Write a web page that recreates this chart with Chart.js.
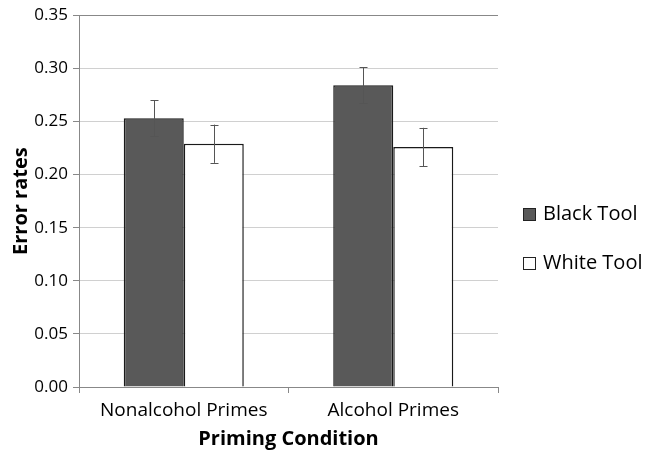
<!DOCTYPE html>
<html>
<head>
<meta charset="utf-8">
<script src="https://cdn.jsdelivr.net/npm/chart.js@4"></script>
<style>
html,body{margin:0;padding:0;background:#fff;}
#wrap{width:651px;height:451px;position:relative;}
</style>
</head>
<body>
<div id="wrap"><canvas id="c" width="651" height="451"></canvas></div>
<script>
const categories = ["Nonalcohol Primes", "Alcohol Primes"];
const seriesNames = ["Black Tool", "White Tool"];
const blackTool = [0.253, 0.284];
const whiteTool = [0.229, 0.226];
const blackErr = [0.017, 0.017];
const whiteErr = [0.018, 0.018];
const yTicks = [0, 0.05, 0.10, 0.15, 0.20, 0.25, 0.30, 0.35];
const FONT = "'Open Sans', sans-serif";

const errorBars = {
  id: 'errorBars',
  afterDatasetsDraw(chart) {
    const ctx = chart.ctx, y = chart.scales.y;
    const errs = [blackErr, whiteErr];
    chart.data.datasets.forEach((ds, di) => {
      const meta = chart.getDatasetMeta(di);
      meta.data.forEach((bar, i) => {
        const v = ds.data[i], e = errs[di][i];
        const yt = y.getPixelForValue(v + e), yb = y.getPixelForValue(v - e);
        const x = Math.round(bar.x) + 0.5;
        ctx.save();
        ctx.strokeStyle = '#555';
        ctx.lineWidth = 1;
        ctx.beginPath();
        ctx.moveTo(x, yt); ctx.lineTo(x, yb);
        ctx.moveTo(x - 4, Math.round(yt) + 0.5); ctx.lineTo(x + 4, Math.round(yt) + 0.5);
        ctx.moveTo(x - 4, Math.round(yb) + 0.5); ctx.lineTo(x + 4, Math.round(yb) + 0.5);
        ctx.stroke();
        ctx.restore();
      });
    });
  }
};

const customLegend = {
  id: 'customLegend',
  afterDraw(chart) {
    const ctx = chart.ctx;
    const ys = [214, 263];
    chart.data.datasets.forEach((ds, i) => {
      ctx.save();
      ctx.fillStyle = ds.backgroundColor;
      ctx.strokeStyle = '#222';
      ctx.lineWidth = 1;
      ctx.fillRect(523, ys[i] - 6, 13, 13);
      ctx.strokeRect(523.5, ys[i] - 5.5, 12, 12);
      ctx.fillStyle = '#000';
      ctx.font = "20px " + FONT;
      ctx.textBaseline = 'middle';
      ctx.fillText(ds.label, 543, ys[i]);
      ctx.restore();
    });
  }
};

new Chart(document.getElementById('c'), {
  type: 'bar',
  data: {
    labels: categories,
    datasets: [
      { label: seriesNames[0], data: blackTool, backgroundColor: '#595959', borderColor: '#1a1a1a', borderWidth: 1.5 },
      { label: seriesNames[1], data: whiteTool, backgroundColor: '#ffffff', borderColor: '#1a1a1a', borderWidth: 1.5 }
    ]
  },
  options: {
    responsive: false,
    animation: false,
    devicePixelRatio: 1,
    layout: { padding: { top: 15, right: 153, left: 0, bottom: 0 } },
    datasets: { bar: { categoryPercentage: 0.573, barPercentage: 1.0 } },
    plugins: { legend: { display: false }, tooltip: { enabled: false } },
    scales: {
      x: {
        grid: { drawOnChartArea: false, offset: true, tickLength: 6, color: '#888', tickColor: '#888' },
        border: { color: '#888', width: 1 },
        ticks: { color: '#000', font: { family: FONT, size: 19 }, padding: 6 },
        title: { display: true, text: 'Priming Condition', color: '#000', font: { family: FONT, size: 20, weight: 'bold' }, padding: { top: 0, bottom: 0 } },
        afterFit(s) { s.height = 64; }
      },
      y: {
        min: 0, max: 0.35,
        afterBuildTicks(s) { s.ticks = yTicks.map(v => ({ value: v })); },
        grid: {
          color: ctx => (ctx.tick && ctx.tick.value === 0.35) ? '#888' : '#d0d0d0',
          tickColor: '#888', tickLength: 6
        },
        border: { color: '#888', width: 1 },
        ticks: { color: '#000', font: { family: FONT, size: 17 }, padding: 5, callback: v => Number(v).toFixed(2) },
        title: { display: true, text: 'Error rates', color: '#000', font: { family: FONT, size: 20, weight: 'bold' }, padding: { top: 9, bottom: 0 } },
        afterFit(s) { s.width = 79; }
      }
    }
  },
  plugins: [errorBars, customLegend]
});
</script>
</body>
</html>
